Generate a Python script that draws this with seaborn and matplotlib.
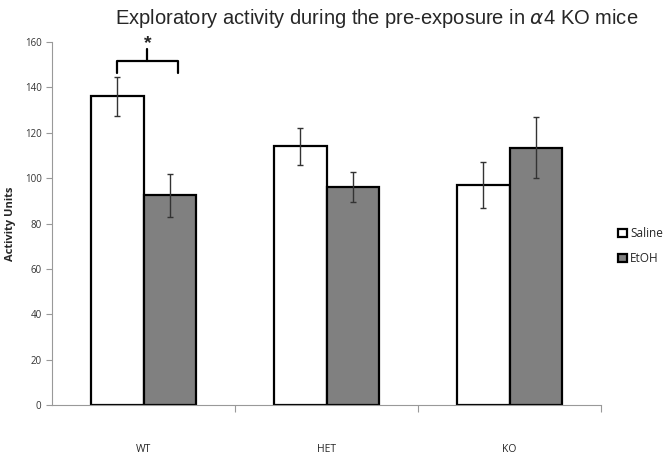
import numpy as np
import pandas as pd
import matplotlib
matplotlib.use("Agg")
import matplotlib.pyplot as plt
import seaborn as sns

genotypes = ["WT", "HET", "KO"]
treatments = ["Saline", "EtOH"]
saline_mean = [136, 114, 97]
saline_sem = [8.5, 8, 10]
etoh_mean = [92.5, 96, 113.5]
etoh_sem = [9.5, 6.5, 13.5]

df = pd.DataFrame({
	"genotype": genotypes * 2,
	"treatment": ["Saline"] * 3 + ["EtOH"] * 3,
	"activity": saline_mean + etoh_mean,
	"sem": saline_sem + etoh_sem,
})

sns.set_style("white")
plt.rcParams["font.family"] = ["Open Sans", "DejaVu Sans"]

fig = plt.figure(figsize=(6.72, 4.58), dpi=100)
ax = fig.add_axes([0.0774, 0.1157, 0.817, 0.7925])

sns.barplot(data=df, x="genotype", y="activity", hue="treatment", order=genotypes,
			hue_order=treatments, palette={"Saline": "white", "EtOH": "#808080"},
			edgecolor="black", linewidth=1.6, width=0.575, errorbar=None, ax=ax)

# error bars drawn at the bar centres seaborn produced
for cont, t in zip(ax.containers, treatments):
	sub = df[df["treatment"] == t].set_index("genotype").loc[genotypes]
	xs = [p.get_x() + p.get_width() / 2 for p in cont.patches]
	ys = [p.get_height() for p in cont.patches]
	ax.errorbar(xs, ys, yerr=sub["sem"].values, fmt="none", ecolor="#333333",
				elinewidth=1, capsize=2, capthick=1, zorder=5)

ax.set_xlim(-0.5, 2.5)
ax.set_ylim(0, 160)
ax.set_yticks(np.arange(0, 161, 20))
ax.tick_params(axis="y", labelsize=7, colors="#333333", length=4, width=0.8, direction="out", left=True)
ax.yaxis.set_tick_params(color="#999999")
ax.set_xticks([0, 1, 2])
ax.set_xticklabels(genotypes)
ax.tick_params(axis="x", labelsize=7.5, length=0, pad=28)
ax.set_xticks([0.5, 1.5, 2.5], minor=True)
ax.tick_params(axis="x", which="minor", length=5, width=0.8, color="#999999", direction="out", bottom=True)

for s in ["top", "right"]:
	ax.spines[s].set_visible(False)
for s in ["left", "bottom"]:
	ax.spines[s].set_color("#999999")
	ax.spines[s].set_linewidth(0.8)

ax.set_xlabel("")
ax.set_ylabel("Activity Units", fontsize=8, fontweight="bold", labelpad=6)

fig.suptitle("Exploratory activity during the pre-exposure in $\\alpha$4 KO mice",
			 x=0.56, y=0.985, fontsize=14.5, family="Liberation Sans")

# significance bracket between WT groups
p0 = ax.containers[0].patches[0]
xl = p0.get_x() + p0.get_width() / 2
xr = xl + 0.33
ax.plot([xl, xl, xr, xr], [146.5, 151.8, 151.8, 146.5], color="black", lw=1.6, clip_on=False)
xm = (xl + xr) / 2
ax.plot([xm, xm], [151.8, 157], color="black", lw=1.6, clip_on=False)
ax.text(xm, 155.5, "*", ha="center", va="bottom", fontsize=14, fontweight="bold",
		family="Liberation Sans", clip_on=False)

leg = ax.legend(title=None, loc="center left", bbox_to_anchor=(1.012, 0.437), frameon=False,
				fontsize=8.5, handlelength=0.7, handleheight=0.7, handletextpad=0.3, labelspacing=1.0)
for h in leg.legend_handles:
	h.set_linewidth(1.6)

fig.savefig("out.png", dpi=100)
